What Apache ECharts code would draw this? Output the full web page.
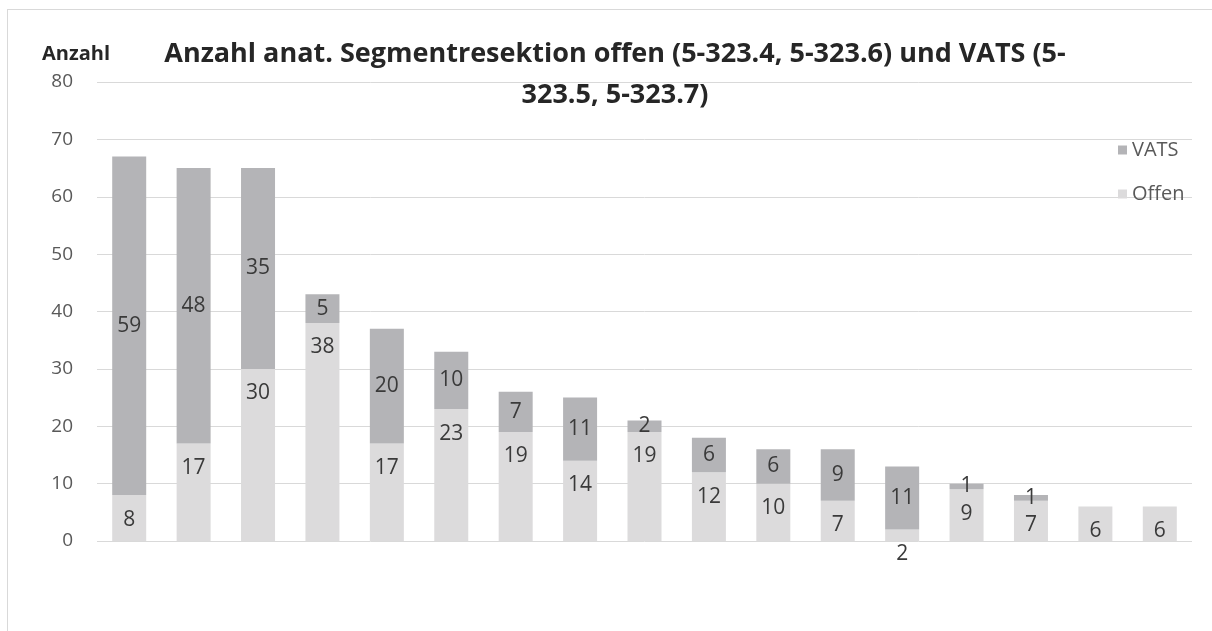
<!DOCTYPE html>
<html><head><meta charset="utf-8">
<script src="https://cdn.jsdelivr.net/npm/echarts@6/dist/echarts.min.js"></script>
<style>
html,body{margin:0;padding:0;background:#fff;}
#frame{position:absolute;left:7px;top:9px;width:1300px;height:700px;border-left:1px solid #d9d9d9;border-top:1px solid #d9d9d9;}
#c{position:absolute;left:0;top:0;width:1212px;height:631px;}
</style></head>
<body><div id="frame"></div><div id="c"></div>
<script>
const categories = ['1','2','3','4','5','6','7','8','9','10','11','12','13','14','15','16','17'];
const offen = [8,17,30,38,17,23,19,14,19,12,10,7,2,9,7,6,6];
const vats = [59,48,35,5,20,10,7,11,2,6,6,9,11,1,1,0,0];
const yTicks = [0,10,20,30,40,50,60,70,80];
const titleText = 'Anzahl anat. Segmentresektion offen (5-323.4, 5-323.6) und VATS (5-\n323.5, 5-323.7)';

const font = '"Open Sans", "Liberation Sans", sans-serif';
const chart = echarts.init(document.getElementById('c'));
chart.setOption({
  animation:false,
  title:{text:titleText,left:610,textAlign:'center',top:29,
    textStyle:{fontFamily:font,fontSize:27,fontWeight:'bold',color:'#262626',lineHeight:41}},
  legend:{data:['VATS','Offen'],orient:'vertical',left:1113,top:135,itemGap:24,itemWidth:9,itemHeight:9,itemTextGap:9,
    icon:'rect',textStyle:{fontFamily:font,fontSize:20,color:'#595959'}},
  grid:{left:97,right:20,top:82,bottom:90},
  xAxis:{type:'category',data:categories,axisLine:{show:false},axisTick:{show:false},axisLabel:{show:false}},
  yAxis:{type:'value',min:yTicks[0],max:yTicks[yTicks.length-1],interval:10,
    name:'Anzahl',nameLocation:'end',nameGap:18,
    nameTextStyle:{fontFamily:font,fontSize:20,fontWeight:'bold',color:'#262626',align:'right',padding:[0,-13,0,0]},
    axisLabel:{fontFamily:font,fontSize:19,color:'#595959',margin:24},
    splitLine:{lineStyle:{color:'#d9d9d9'}},axisLine:{show:false},axisTick:{show:false}},
  series:[
    {name:'Offen',type:'bar',stack:'a',data:offen,barWidth:34,itemStyle:{color:'#dcdbdc'},
      label:{show:true,position:'insideTop',distance:14,fontFamily:font,fontSize:21,color:'#3a3a3a'}},
    {name:'VATS',type:'bar',stack:'a',data:vats,barWidth:34,itemStyle:{color:'#b4b4b7'},
      label:{show:true,position:'inside',fontFamily:font,fontSize:21,color:'#3a3a3a',
        formatter:p=>p.value>0?p.value:''}}
  ]
});
</script></body></html>
